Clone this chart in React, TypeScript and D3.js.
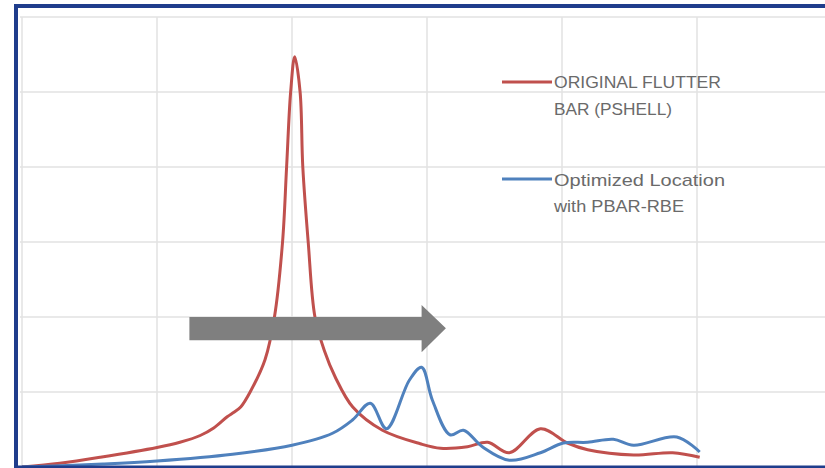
import React from "react";
import * as d3 from "d3";

// Data (x in gridline units, y in gridline units)
const redX = [0, 0.28, 0.58, 1.0, 1.17, 1.32, 1.42, 1.52, 1.57, 1.62, 1.69, 1.8, 1.87, 1.93, 1.96, 1.99, 2.02, 2.06, 2.08, 2.12, 2.17, 2.24, 2.32, 2.45, 2.67, 2.95, 3.1, 3.3, 3.45, 3.61, 3.84, 4.04, 4.19, 4.53, 4.82, 5.02];
const redY = [0, 0.05, 0.13, 0.26, 0.33, 0.42, 0.52, 0.67, 0.73, 0.8, 1.0, 1.43, 2.0, 3.0, 4.0, 5.0, 5.47, 5.0, 4.0, 3.0, 2.0, 1.55, 1.2, 0.8, 0.49, 0.31, 0.25, 0.27, 0.33, 0.19, 0.51, 0.32, 0.23, 0.16, 0.19, 0.13];
const blueX = [0, 0.6, 1.0, 1.56, 2.0, 2.3, 2.45, 2.58, 2.7, 2.87, 2.96, 3.04, 3.17, 3.27, 3.41, 3.61, 3.84, 4.01, 4.19, 4.38, 4.53, 4.85, 5.02];
const blueY = [0, 0.04, 0.08, 0.17, 0.29, 0.45, 0.63, 0.85, 0.51, 1.16, 1.33, 0.89, 0.43, 0.49, 0.27, 0.09, 0.19, 0.32, 0.33, 0.37, 0.29, 0.4, 0.2];
const xTicks = [0, 1, 2, 3, 4, 5, 6];
const yTicks = [0, 1, 2, 3, 4, 5, 6];
const seriesNames = ["ORIGINAL FLUTTER", "BAR (PSHELL)", "Optimized Location", "with PBAR-RBE"];

const W = 825;
const H = 468;

export default function App() {
  const x = d3.scaleLinear().domain([0, 6]).range([22, 832]);
  const y = d3.scaleLinear().domain([0, 6]).range([467, 17]);
  const line = d3
    .line<[number, number]>()
    .x((d) => x(d[0]))
    .y((d) => y(d[1]))
    .curve(d3.curveCatmullRom.alpha(0.5));
  const red = redX.map((v, i) => [v, redY[i]] as [number, number]);
  const blue = blueX.map((v, i) => [v, blueY[i]] as [number, number]);
  const redC = "#c0504d";
  const blueC = "#4f81bd";
  const textC = "#6a6a6a";
  const font = "'Liberation Sans', Arial, sans-serif";

  return (
    <div style={{ position: "absolute", left: 0, top: 0 }}>
      <svg width={W} height={H} style={{ display: "block", background: "#fff" }}>
        <rect x={0} y={0} width={W} height={H} fill="#fff" />
        <g>
          {yTicks.map((t) => (
            <line key={"h" + t} x1={20} x2={W} y1={y(t)} y2={y(t)} stroke="#e2e2e2" strokeWidth={1.5} />
          ))}
          {xTicks.map((t) => (
            <line key={"v" + t} x1={x(t)} x2={x(t)} y1={y(6)} y2={y(0)} stroke="#e2e2e2" strokeWidth={1.5} />
          ))}
        </g>
        <path d={line(red) || ""} fill="none" stroke={redC} strokeWidth={3} strokeLinejoin="round" />
        <path d={line(blue) || ""} fill="none" stroke={blueC} strokeWidth={3} strokeLinejoin="round" />
        {/* arrow */}
        <path
          d={`M${x(1.24)},${y(2)} L${x(2.96)},${y(2)} L${x(2.96)},${y(2.16)} L${x(3.14)},${y(1.85)} L${x(2.96)},${y(1.53)} L${x(2.96)},${y(1.69)} L${x(1.24)},${y(1.69)} Z`}
          fill="#7f7f7f"
        />
        {/* legend */}
        <line x1={502} x2={552} y1={82} y2={82} stroke={redC} strokeWidth={3} />
        <line x1={502} x2={552} y1={179} y2={179} stroke={blueC} strokeWidth={3} />
        <g fontFamily={font} fontSize={17} fill={textC}>
          <text x={554} y={88} textLength={167} lengthAdjust="spacingAndGlyphs">{seriesNames[0]}</text>
          <text x={554} y={115} textLength={118} lengthAdjust="spacingAndGlyphs">{seriesNames[1]}</text>
          <text x={554} y={186} textLength={171} lengthAdjust="spacingAndGlyphs">{seriesNames[2]}</text>
          <text x={554} y={212} textLength={130} lengthAdjust="spacingAndGlyphs">{seriesNames[3]}</text>
        </g>
        {/* frame */}
        <line x1={16} x2={16} y1={4} y2={H} stroke="#1f3d8c" strokeWidth={4} />
        <line x1={14} x2={W} y1={6} y2={6} stroke="#1f3d8c" strokeWidth={4} />
        <line x1={14} x2={W} y1={467} y2={467} stroke="#1f3d8c" strokeWidth={3} />
      </svg>
    </div>
  );
}
